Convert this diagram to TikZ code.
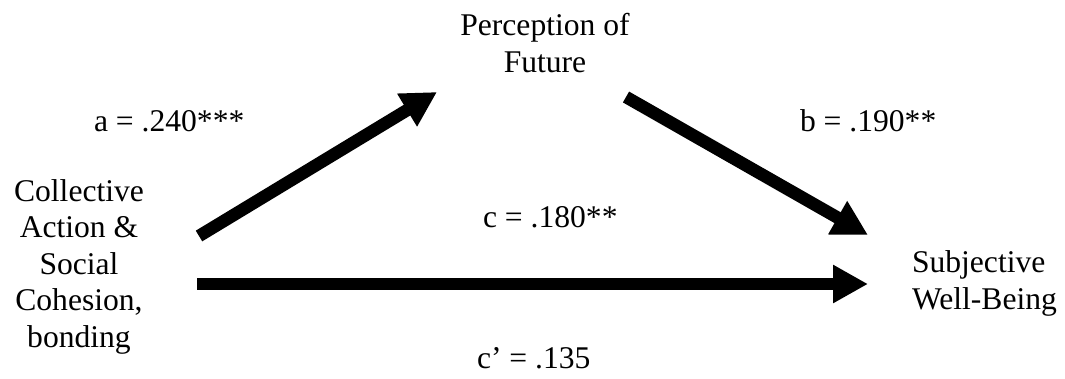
\documentclass[tikz,border=0pt]{standalone}
\usepackage{fontspec}
\setmainfont{Liberation Serif}
\usetikzlibrary{arrows.meta}
\begin{document}
\begin{tikzpicture}[x=1pt,y=-1pt,
  every node/.style={inner sep=0pt, outer sep=0pt, font=\fontsize{31.6}{36.5}\selectfont},
  lbl/.style={anchor=base west},
  blk/.style={align=center, anchor=base},
  fatarrow/.style={line width=12.5pt, -{Triangle[length=35pt,width=36pt]}}]
\useasboundingbox (0,0) rectangle (1065,378);
% variables (anchor base = baseline of the last line)
\node[blk] (perc) at (545,72) {Perception of\\Future};
\node[blk] (cacs) at (79,347) {Collective\\Action \&\\Social\\Cohesion,\\bonding};
\node[anchor=base west, align=left] (swb) at (912,309) {Subjective\\Well-Being};
% path labels
\node[lbl] (la) at (94,131) {a = .240***};
\node[lbl] (lb) at (800,131) {b = .190**};
\node[lbl] (lc) at (483,227) {c = .180**};
\node[lbl] (lcp) at (477,368) {c’ = .135};
% arrow ends
\coordinate (aS) at (199,236); \coordinate (aE) at (437,92);
\coordinate (bS) at (626,97);  \coordinate (bE) at (868,235);
\coordinate (cS) at (197,284); \coordinate (cE) at (868,284);
\draw[fatarrow] (aS) -- (aE);
\draw[fatarrow] (bS) -- (bE);
\draw[fatarrow] (cS) -- (cE);
\end{tikzpicture}
\end{document}
